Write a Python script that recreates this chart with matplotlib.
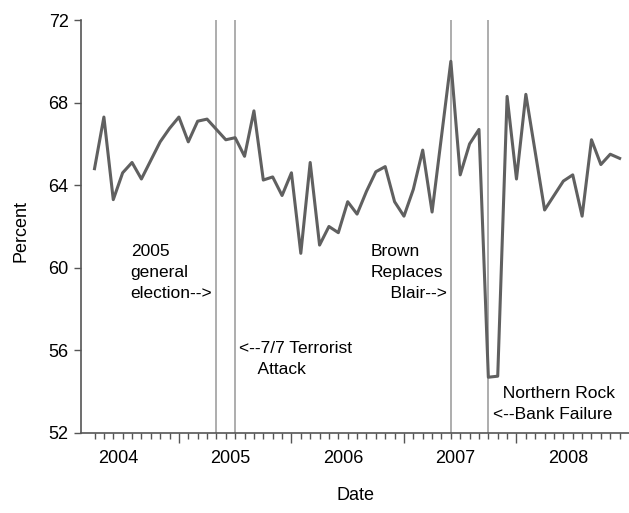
import pandas as pd
import numpy as np
import matplotlib
matplotlib.use('Agg')
import matplotlib.pyplot as plt

plt.rcParams['font.family'] = ['Liberation Sans', 'DejaVu Sans']

# monthly series, April 2004 - December 2008
start_month = '2004-04-01'
percent = [64.8, 67.3, 63.3, 64.6, 65.1, 64.3, 65.2, 66.1, 66.75,
           67.3, 66.1, 67.1, 67.2, 66.7, 66.2, 66.3, 65.4, 67.6, 64.25, 64.4, 63.5,
           64.6, 60.7, 65.1, 61.1, 62.0, 61.7, 63.2, 62.6, 63.7, 64.65, 64.9, 63.2,
           62.5, 63.8, 65.7, 62.7, 66.35, 70.0, 64.5, 66.0, 66.7, 54.7, 54.75, 68.3,
           64.3, 68.4, 65.6, 62.8, 63.5, 64.2, 64.5, 62.5, 66.2, 65.0, 65.5, 65.3]

# event markers: (month, label text, label y, side)
event_months = ['2005-05', '2005-07', '2007-06', '2007-10']
event_labels = ['2005\ngeneral\nelection-->',
                '<--7/7 Terrorist\n    Attack',
                'Brown\nReplaces\n    Blair-->',
                '  Northern Rock\n<--Bank Failure']
event_label_y = [59.75, 55.6, 59.75, 53.4]
event_side = ['left', 'right', 'left', 'right']

years = [2004, 2005, 2006, 2007, 2008]
yticks = [52, 56, 60, 64, 68, 72]


def to_decimal_year(dates):
    dates = pd.DatetimeIndex(dates)
    return np.asarray(dates.year + (dates.month - 1) / 12.0)


months = pd.date_range(start_month, periods=len(percent), freq='MS')
x = to_decimal_year(months)
event_x = to_decimal_year(pd.to_datetime(event_months))

fig = plt.figure(figsize=(6.29, 5.13), dpi=100)
ax = fig.add_axes([0.1288, 0.156, 0.8712, 0.805])

# event lines behind the series
for ex in event_x:
    ax.axvline(ex, color='#a0a0a0', linewidth=1.2, zorder=1)

ax.plot(x, percent, color='#606060', linewidth=2.2, zorder=2)

for ex, txt, ty, side in zip(event_x, event_labels, event_label_y, event_side):
    if side == 'left':
        ax.annotate(txt, xy=(ex, ty), xytext=(-3, 0), textcoords='offset points',
                    ha='right', va='center', multialignment='left',
                    fontsize=12.5, linespacing=1.5)
    else:
        ax.annotate(txt, xy=(ex, ty), xytext=(3, 0), textcoords='offset points',
                    ha='left', va='center', multialignment='left',
                    fontsize=12.5, linespacing=1.5)

ax.set_ylim(52, 72)
ax.set_xlim(2004.13, 2009.0)
ax.set_yticks(yticks)
ax.tick_params(axis='y', length=5, width=1, color='#555555', pad=4, labelsize=13)

# long ticks at year boundaries, short ticks each month
ax.set_xticks(years[1:])
ax.set_xticklabels([])
ax.set_xticks(x, minor=True)
ax.tick_params(axis='x', which='major', length=7.5, width=1, color='#555555')
ax.tick_params(axis='x', which='minor', length=4.5, width=1, color='#555555')

# year labels centred inside each year
sec = ax.secondary_xaxis('bottom')
sec.set_xticks([yr + 5.5 / 12 for yr in years])
sec.set_xticklabels([str(yr) for yr in years])
sec.tick_params(length=0, pad=12, labelsize=13)
sec.spines['bottom'].set_visible(False)

for side in ['top', 'right']:
    ax.spines[side].set_visible(False)
for side in ['left', 'bottom']:
    ax.spines[side].set_color('#555555')
    ax.spines[side].set_linewidth(1.2)

ax.set_ylabel('Percent', fontsize=13)
ax.yaxis.set_label_coords(-0.094, 0.49)
ax.set_xlabel('Date', fontsize=13)
ax.xaxis.set_label_coords(0.5, -0.13)

fig.savefig('out.png', dpi=100)
